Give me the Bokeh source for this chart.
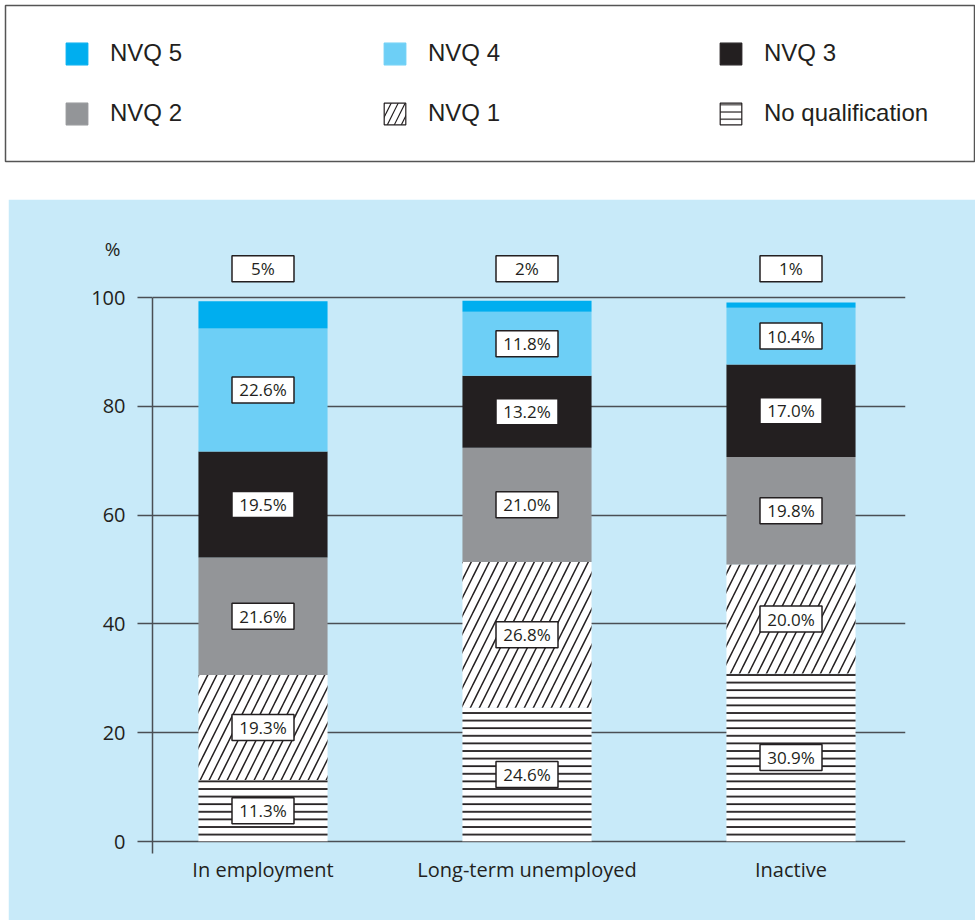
from bokeh.plotting import figure
from bokeh.layouts import column
from bokeh.models import (ColumnDataSource, Range1d, FixedTicker, Legend, LegendItem, LinearAxis)
from bokeh.core.properties import value
from bokeh.embed import file_html
from bokeh.resources import INLINE

# ---- data -------------------------------------------------------------
groups = ["In employment", "Long-term unemployed", "Inactive"]
series = ["No qualification", "NVQ 1", "NVQ 2", "NVQ 3", "NVQ 4", "NVQ 5"]

no_qual = [11.3, 24.6, 30.9]
nvq1 = [19.3, 26.8, 20.0]
nvq2 = [21.6, 21.0, 19.8]
nvq3 = [19.5, 13.2, 17.0]
nvq4 = [22.6, 11.8, 10.4]
nvq5 = [5, 2, 1]

y_ticks = [0, 20, 40, 60, 80, 100]

# ---- styling ----------------------------------------------------------
colors = ["white", "white", "#939598", "#231f20", "#6dcff6", "#00aeef"]
hatches = ["horizontal_line", "right_diagonal_line", " ", " ", " ", " "]
hatch_scales = [7.6, 18, 12, 12, 12, 12]
hatch_weights = [1.8, 1.5, 1, 1, 1, 1]
panel = "#c8eaf9"
ink = "#231f20"
rule = "#4a4f55"

values = [no_qual, nvq1, nvq2, nvq3, nvq4, nvq5]
xs = list(range(len(groups)))
data = {"x": xs}
for name, vals in zip(series, values):
    data[name] = vals
source = ColumnDataSource(data)

# ---- legend panel -----------------------------------------------------
leg = figure(width=975, height=199, output_backend="svg", toolbar_location=None,
             x_range=Range1d(0, 1), y_range=Range1d(0, 1), frame_align=False,
             min_border_left=5, min_border_top=5, min_border_bottom=38, min_border_right=0)
leg.axis.visible = False
leg.grid.visible = False
leg.outline_line_color = "#555555"
leg.outline_line_width = 1.5
leg.background_fill_color = "white"
leg.border_fill_color = "white"

nan = float("nan")
swatches = {}
for name, c, h in zip(series, colors, hatches):
    hatched = h.strip() != ""
    swatches[name] = leg.vbar(x=[nan], top=[nan], width=1, fill_color=c,
                              line_color=ink if hatched else c, line_width=1.2,
                              hatch_pattern=h, hatch_color=ink,
                              hatch_scale=14 if h == "right_diagonal_line" else 7.3,
                              hatch_weight=1.2)

legend_cols = [["NVQ 5", "NVQ 2"], ["NVQ 4", "NVQ 1"], ["NVQ 3", "No qualification"]]
legend_x = [58, 376, 712]
for names, lx in zip(legend_cols, legend_x):
    lg = Legend(items=[LegendItem(label=n, renderers=[swatches[n]]) for n in names],
                location=(lx, 34), orientation="vertical",
                glyph_width=27, glyph_height=27, label_height=22,
                label_standoff=20, spacing=32, padding=0, margin=0,
                label_text_font="Liberation Sans", label_text_font_size="24px",
                label_text_color=ink, border_line_color=None,
                background_fill_alpha=0)
    leg.add_layout(lg)

# ---- chart panel ------------------------------------------------------
px_per_unit = 5.44
frame_h = 615
y0 = -14 / px_per_unit
p = figure(width=967, height=721, output_backend="svg", toolbar_location=None,
           x_range=Range1d(-0.41856, 2.43371),
           y_range=Range1d(y0, y0 + frame_h / px_per_unit), frame_align=False,
           min_border_left=144, min_border_right=70, min_border_top=41, min_border_bottom=65,
           margin=(0, 0, 0, 8))
p.background_fill_color = panel
p.border_fill_color = panel
p.outline_line_color = panel
p.outline_line_width = 2

p.vbar_stack(series, x="x", width=0.489, source=source,
             fill_color=colors, line_color=None,
             hatch_pattern=hatches, hatch_color=ink,
             hatch_scale=hatch_scales, hatch_weight=hatch_weights)

# y axis and grid
yax = p.yaxis[0]
yax.ticker = FixedTicker(ticks=y_ticks)
yax.bounds = (-2.2, 100)
yax.axis_line_color = rule
yax.axis_line_width = 1.5
yax.major_tick_line_color = rule
yax.major_tick_line_width = 1.5
yax.major_tick_out = 15
yax.major_tick_in = 0
yax.minor_tick_line_color = None
yax.major_label_standoff = 12
yax.major_label_text_font = "Open Sans"
yax.major_label_text_font_size = "20px"
yax.major_label_text_color = ink

# unit caption carried by a bare axis placed beside the value axis
unit_axis = LinearAxis(ticker=FixedTicker(ticks=[109]),
                       major_label_overrides={109: "%"},
                       axis_line_color=None, major_tick_line_color=None,
                       minor_tick_line_color=None, major_tick_out=0, major_tick_in=0,
                       major_label_standoff=-32,
                       major_label_text_font="Open Sans", major_label_text_font_size="19px",
                       major_label_text_color=ink)
p.add_layout(unit_axis, "left")

p.ygrid.ticker = FixedTicker(ticks=y_ticks)
p.ygrid.grid_line_color = rule
p.ygrid.grid_line_width = 1.5
p.xgrid.visible = False

# x axis with category names
xax = p.xaxis[0]
xax.ticker = FixedTicker(ticks=xs)
xax.major_label_overrides = {i: g for i, g in zip(xs, groups)}
xax.axis_line_color = None
xax.major_tick_line_color = None
xax.minor_tick_line_color = None
xax.major_tick_out = 0
xax.major_tick_in = 0
xax.major_label_standoff = 0
xax.major_label_text_font = "Open Sans"
xax.major_label_text_font_size = "20px"
xax.major_label_text_color = ink

# value labels: centred in each segment, top segment labelled above the bar
lx, ly, lt = [], [], []
for gi in xs:
    base = 0.0
    for si, vals in enumerate(values):
        v = vals[gi]
        lx.append(gi)
        if si == len(values) - 1:
            ly.append(105.3)
        else:
            ly.append(base + v / 2)
        lt.append(f"{v:g}%" if si == len(values) - 1 else f"{v:.1f}%")
        base += v
labels = ColumnDataSource(dict(x=lx, y=ly, t=lt))
p.rect(x="x", y="y", width=62, height=26, width_units="screen", height_units="screen",
       source=labels, fill_color="white", line_color=ink, line_width=1.5)
p.text(x="x", y="y", text="t", source=labels, text_align="center", text_baseline="middle",
       text_font=value("Open Sans"), text_font_size="17px", text_color=ink)

layout = column(leg, p, spacing=0)
open("out.html", "w").write(file_html(layout, INLINE))
